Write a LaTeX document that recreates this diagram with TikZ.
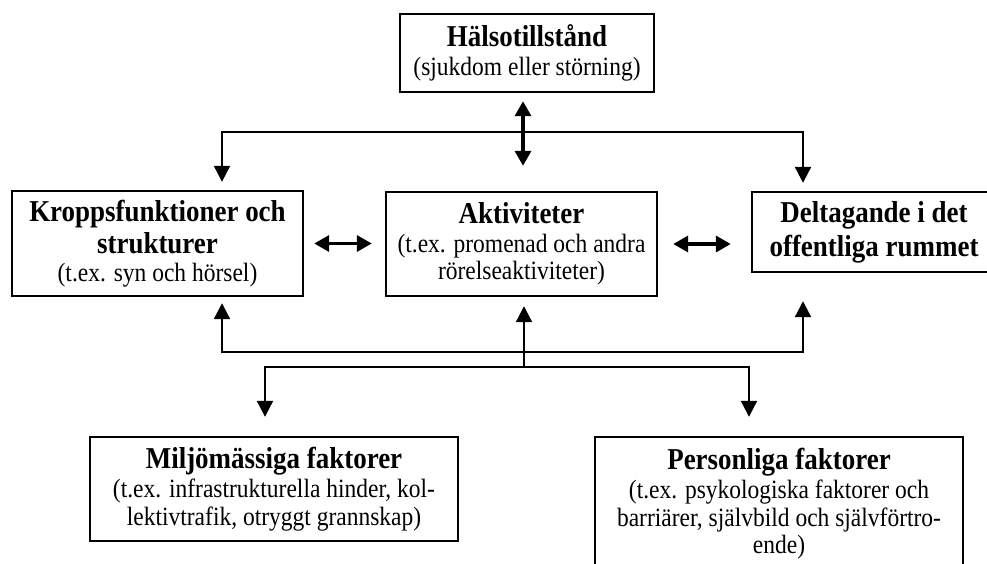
\documentclass[tikz,border=0pt]{standalone}
\usepackage{fontspec}
\setmainfont[FakeStretch=0.89]{Liberation Serif}
\usetikzlibrary{arrows.meta}
\newcommand\ttlfont{\fontsize{30.3}{33}\selectfont\bfseries}
\begin{document}
\begin{tikzpicture}[x=1pt,y=-1pt,
  box/.style={draw, line width=2.4pt, inner sep=0pt, align=center,
    font=\fontsize{26.4}{27.7}\selectfont},
  conn/.style={line width=2.2pt},
  arr/.style={line width=2.2pt, -{Triangle[length=16pt,width=16pt]}},
  dbl/.style={line width=3.5pt, {Triangle[length=15pt,width=16pt]}-{Triangle[length=15pt,width=16pt]}}]
\useasboundingbox (0,0) rectangle (987,563);

\node[box, minimum width=254pt, minimum height=78pt] (H) at (527,53)
  {{\ttlfont Hälsotillstånd}\\[1pt](sjukdom eller störning)};
\node[box, minimum width=291pt, minimum height=105pt] (K) at (157.5,243.5)
  {{\ttlfont Kroppsfunktioner och}\\[5pt]{\ttlfont strukturer}\\(t.ex. syn och hörsel)};
\node[box, minimum width=271pt, minimum height=104pt] (A) at (521.5,244)
  {{\ttlfont Aktiviteter}\\[1pt](t.ex. promenad och andra\\rörelseaktiviteter)};
\node[box, minimum width=244pt, minimum height=80pt] (D) at (874,232)
  {{\ttlfont Deltagande i det}\\[5pt]{\ttlfont offentliga rummet}};
\node[box, minimum width=368pt, minimum height=104pt] (M) at (274,489)
  {{\ttlfont Miljömässiga faktorer}\\[1pt](t.ex. infrastrukturella hinder, kol-\\lektivtrafik, otryggt grannskap)};
\node[box, minimum width=368pt, minimum height=134pt] (P) at (779,504)
  {{\ttlfont Personliga faktorer}\\[1pt](t.ex. psykologiska faktorer och\\barriärer, självbild och självförtro-\\ende)};

% top bus
\coordinate (hx) at (523,0);
\coordinate (t1) at (222,132);
\coordinate (t2) at (803,132);
\draw[dbl, shorten <=8pt, shorten >=25pt] (H.south -| hx) -- (A.north -| hx);
\draw[conn] (t1) -- (t2);
\draw[arr, shorten >=8pt] ([yshift=1.1pt]t1) -- (t1 |- K.north);
\draw[arr, shorten >=8pt] ([yshift=1.1pt]t2) -- (t2 |- D.north);

% horizontal double arrows
\draw[dbl, shorten <=10pt, shorten >=13pt] (K.east) -- (K.east -| A.west);
\draw[dbl, shorten <=15pt, shorten >=20pt] (A.east) -- (A.east -| D.west);

% lower bus
\coordinate (b1) at (222,352);
\coordinate (b2) at (803,352);
\coordinate (bm) at (524,367);
\draw[conn] (b1) -- (b2);
\draw[arr, shorten >=6pt] ([yshift=-1.1pt]b1) -- (b1 |- K.south);
\draw[arr, shorten >=28pt] ([yshift=-1.1pt]b2) -- (b2 |- D.south);
\draw[arr, shorten >=9pt] ([yshift=-1.1pt]bm) -- (bm |- A.south);

% bottom bus
\coordinate (c1) at (265,367);
\coordinate (c2) at (749,367);
\draw[conn] (c1) -- (c2);
\draw[arr, shorten >=19pt] ([yshift=1.1pt]c1) -- (c1 |- M.north);
\draw[arr, shorten >=19pt] ([yshift=1.1pt]c2) -- (c2 |- P.north);
\end{tikzpicture}
\end{document}
